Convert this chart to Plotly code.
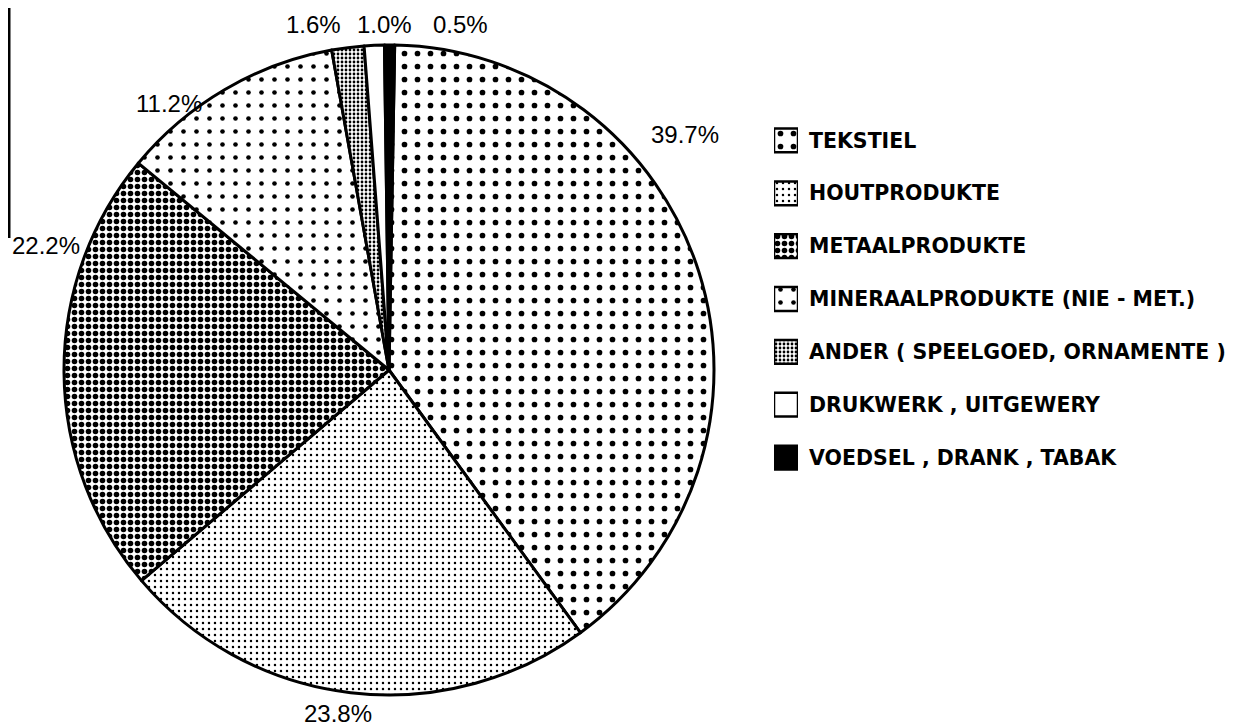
import plotly.graph_objects as go

# ---- data ----
categories = [
    "TEKSTIEL",
    "HOUTPRODUKTE",
    "METAALPRODUKTE",
    "MINERAALPRODUKTE (NIE - MET.)",
    "ANDER ( SPEELGOED, ORNAMENTE )",
    "DRUKWERK , UITGEWERY",
    "VOEDSEL , DRANK , TABAK",
]
shares = [39.7, 23.8, 22.2, 11.2, 1.6, 1.0, 0.5]

# ---- styles ----
fill_colors = ["white", "white", "white", "white", "white", "white", "black"]
pat_shapes = [".", ".", ".", ".", ".", "", ""]
pat_sizes = [13, 6, 7, 13, 4, 8, 8]
pat_solid = [0.15, 0.13, 0.5, 0.1, 0.38, 0.3, 0.3]

W, H = 1242, 728

# label positions (pixel centres) for the percentage texts
label_px = [
    (677, 126),
    (330, 705),
    (38, 238),
    (161, 96),
    (305, 16),
    (376, 16),
    (452, 16),
]

fig = go.Figure()
fig.add_trace(go.Pie(
    labels=categories, values=shares, sort=False, direction="clockwise",
    rotation=1,
    domain=dict(x=[56 / W, 706 / W], y=[41 / H, 691 / H]),
    marker=dict(colors=fill_colors, line=dict(color="black", width=3),
                pattern=dict(shape=pat_shapes, size=pat_sizes, solidity=pat_solid,
                             fgcolor="black", bgcolor="white", fillmode="replace")),
    textinfo="none", hoverinfo="label+percent", showlegend=False,
))

# legend drawn as a patterned swatch column with labels as tick text
for i, cat in enumerate(categories):
    pat = dict(shape=pat_shapes[i], size=pat_sizes[i], solidity=pat_solid[i],
               fgcolor="black", bgcolor="white", fillmode="replace")
    fig.add_trace(go.Bar(
        x=[1], y=[cat], orientation="h",
        xaxis="x2", yaxis="y2", width=0.45,
        marker=dict(color=fill_colors[i], line=dict(color="black", width=2.5),
                    pattern=pat),
        showlegend=False, hoverinfo="skip",
    ))

annotations = []
for (px, py), v in zip(label_px, shares):
    annotations.append(dict(
        x=px / W, y=1 - py / H, xref="paper", yref="paper", text=f"{v:.1f}%",
        showarrow=False, xanchor="center", yanchor="middle",
        font=dict(family="Liberation Sans, Arial, sans-serif", size=24, color="black"),
    ))

shapes = [
    dict(type="line", xref="paper", yref="paper", x0=1 / W, x1=1 / W,
         y0=1, y1=1 - 230 / H, line=dict(color="black", width=3)),
    dict(type="line", xref="paper", yref="paper", x0=1240 / W, x1=1240 / W,
         y0=1, y1=0, line=dict(color="black", width=2)),
]

fig.update_layout(
    width=W, height=H,
    margin=dict(l=0, r=0, t=0, b=0),
    paper_bgcolor="white", plot_bgcolor="white",
    showlegend=False, barmode="overlay",
    annotations=annotations, shapes=shapes,
    xaxis=dict(visible=False),
    yaxis=dict(visible=False),
    xaxis2=dict(domain=[766 / W, 790 / W], range=[0, 1], visible=False,
                anchor="y2", fixedrange=True),
    yaxis2=dict(domain=[1 - 476 / H, 1 - 106 / H], anchor="x2", side="right",
                type="category", categoryorder="array", categoryarray=categories,
                range=[6.5, -0.5], showgrid=False, zeroline=False,
                showline=False, ticks="", ticklabelstandoff=10,
                tickfont=dict(family="DejaVu Sans, Arial, sans-serif", size=20.5,
                              weight="bold", color="black"),
                fixedrange=True),
)

fig.write_html("out.html")
